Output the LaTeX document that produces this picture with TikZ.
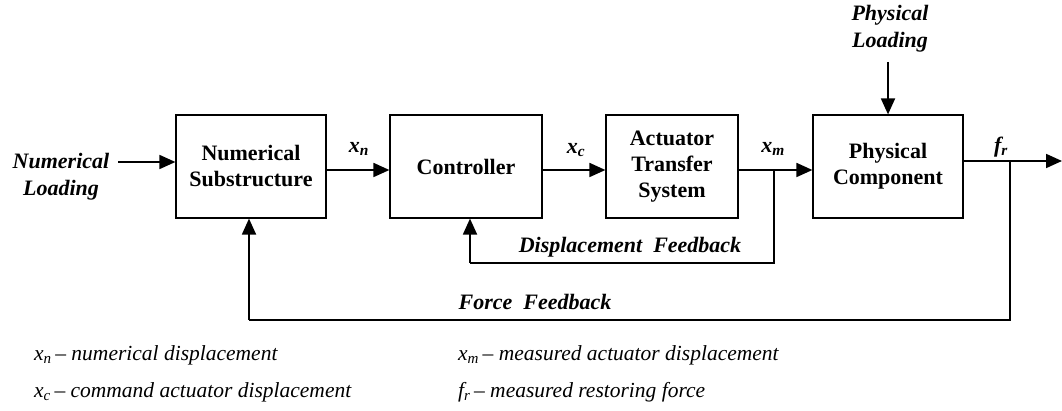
\documentclass[tikz,border=0pt]{standalone}
\usepackage{fontspec}
\setmainfont{Liberation Serif}
\usetikzlibrary{arrows.meta}
\begin{document}
\begin{tikzpicture}[x=1pt,y=-1pt,
  block/.style={draw, line width=1.2pt, inner sep=0pt, align=center,
    font=\fontsize{22}{26}\selectfont\bfseries},
  signal/.style={line width=1.8pt, -{Triangle[length=16pt,width=14pt]}},
  wire/.style={line width=1.8pt},
  tag/.style={font=\fontsize{22}{27}\selectfont\bfseries\itshape, align=center, inner sep=0pt},
  legend/.style={font=\fontsize{21.5}{24}\selectfont\itshape, anchor=base west, inner sep=0pt}]
\useasboundingbox (0,0) rectangle (1062,411);

% blocks of the loop
\node[block, minimum width=150pt, minimum height=103pt] (ns) at (251,166.5) {Numerical\\Substructure};
\node[block, minimum width=152pt, minimum height=103pt] (ctrl) at (466,166.5) {Controller};
\node[block, minimum width=132pt, minimum height=103pt] (act) at (672,166.5) {Actuator\\Transfer\\System};
\node[block, minimum width=150pt, minimum height=103pt] (phys) at (888,166.5) {Physical\\Component};

% external loadings
\node[tag] (nload) at (61,177) {Numerical\\Loading};
\node[tag] (pload) at (890,29) {Physical\\Loading};
\coordinate (nin) at (118,162);
\coordinate (pin) at (888,62);
\draw[signal] (nin) -- (nin -| ns.west);
\draw[signal] (pin) -- (pin |- phys.north);

% forward path
\coordinate (jm) at (774,170);
\coordinate (jf) at (1010,161);
\coordinate (out) at (1062,161);
\draw[signal] (ns.east |- jm) -- (ctrl.west |- jm);
\draw[signal] (ctrl.east |- jm) -- (act.west |- jm);
\draw[signal] (act.east |- jm) -- (phys.west |- jm);
\draw[signal] (phys.east |- jf) -- (out);

% signal labels
\node[tag] (xn) at (359,149) {x\textsubscript{n}};
\node[tag] (xc) at (576,150) {x\textsubscript{c}};
\node[tag] (xm) at (773,149) {x\textsubscript{m}};
\node[tag] (fr) at (1001,147) {f\textsubscript{r}};

% feedback loops
\coordinate (dfb) at (470,263);
\coordinate (ffb) at (249,320);
\draw[wire] (jm) |- (dfb);
\draw[signal] (dfb) -- (dfb |- ctrl.south);
\draw[wire] (jf) |- (ffb);
\draw[signal] (ffb) -- (ffb |- ns.south);
\node[tag] (dlab) at (630,247) {Displacement\ \ Feedback};
\node[tag] (flab) at (535,302) {Force\ \ Feedback};

% legend
\node[legend] (l1) at (34,360) {x\textsubscript{n}\,– numerical displacement};
\node[legend] (l2) at (34,397) {x\textsubscript{c}\,– command actuator displacement};
\node[legend] (l3) at (458,360) {x\textsubscript{m}\,– measured actuator displacement};
\node[legend] (l4) at (458,397) {f\textsubscript{r}\,– measured restoring force};
\end{tikzpicture}
\end{document}
